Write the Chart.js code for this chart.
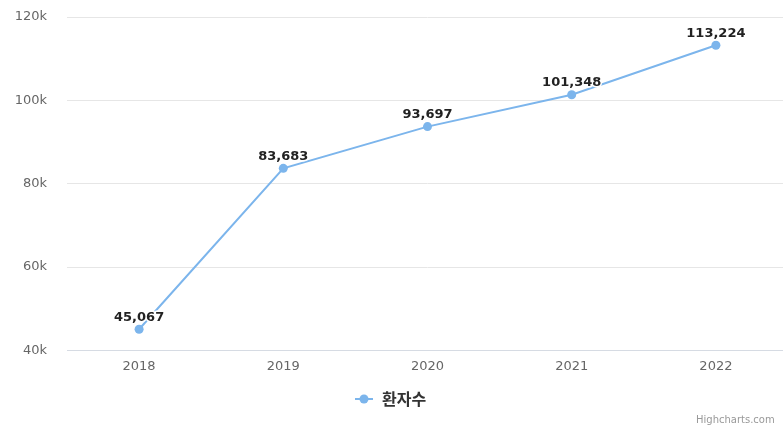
<!DOCTYPE html>
<html lang="ko">
<head>
<meta charset="utf-8">
<script src="https://cdn.jsdelivr.net/npm/chart.js@4.4.1/dist/chart.umd.min.js"></script>
<style>
    html, body { margin: 0; padding: 0; background: #fff; overflow: hidden; }
    #wrap { width: 800px; height: 425px; }
</style>
</head>
<body>
<div id="wrap"><canvas id="patientChart"></canvas></div>
<script>
// 연도별 환자수
const years = ['2018', '2019', '2020', '2021', '2022'];
const patients = [45067, 83683, 93697, 101348, 113224];
const seriesName = '환자수';
const yTicks = [40000, 60000, 80000, 100000, 120000];

const lineColor = '#7cb5ec';

// 점 위 값 라벨 + 하단 범례 + 크레딧
const decorations = {
    id: 'decorations',
    afterDatasetsDraw(chart) {
        const ctx = chart.ctx;
        const meta = chart.getDatasetMeta(0);

        ctx.save();
        ctx.font = 'bold 13px "DejaVu Sans", sans-serif';
        ctx.textAlign = 'center';
        ctx.textBaseline = 'middle';
        ctx.lineJoin = 'round';
        meta.data.forEach((pt, i) => {
            const text = patients[i].toLocaleString('en-US');
            ctx.lineWidth = 3;
            ctx.strokeStyle = '#ffffff';
            ctx.strokeText(text, pt.x, pt.y - 12);
            ctx.fillStyle = '#222222';
            ctx.fillText(text, pt.x, pt.y - 12);
        });

        // 범례
        const ly = 399;
        const lx = 364;
        ctx.strokeStyle = lineColor;
        ctx.lineWidth = 2;
        ctx.beginPath();
        ctx.moveTo(lx - 9, ly);
        ctx.lineTo(lx + 9, ly);
        ctx.stroke();
        ctx.fillStyle = lineColor;
        ctx.beginPath();
        ctx.arc(lx, ly, 4.5, 0, Math.PI * 2);
        ctx.fill();
        ctx.font = 'bold 16px "Noto Sans CJK KR", sans-serif';
        ctx.textAlign = 'left';
        ctx.fillStyle = '#333333';
        ctx.fillText(seriesName, lx + 18, ly);

        // 크레딧
        ctx.font = '10px "DejaVu Sans", sans-serif';
        ctx.fillStyle = '#999999';
        ctx.fillText('Highcharts.com', 696, 420);
        ctx.restore();
    }
};

const ctx = document.getElementById('patientChart').getContext('2d');
new Chart(ctx, {
    type: 'line',
    data: {
        labels: years,
        datasets: [{
            label: seriesName,
            data: patients,
            borderColor: lineColor,
            backgroundColor: lineColor,
            borderWidth: 2,
            pointRadius: 4.5,
            pointBorderWidth: 0,
            pointBackgroundColor: lineColor,
            tension: 0
        }]
    },
    options: {
        responsive: true,
        maintainAspectRatio: false,
        animation: false,
        layout: {
            padding: { top: 17, right: 12, bottom: 51, left: 0 }
        },
        scales: {
            x: {
                offset: true,
                grid: { display: false },
                border: { display: true, color: '#d6dbe3', width: 1 },
                ticks: {
                    color: '#666666',
                    padding: 0,
                    font: { family: '"DejaVu Sans", sans-serif', size: 13 }
                }
            },
            y: {
                min: 40000,
                max: 120000,
                afterFit(scale) {
                    scale.width = 67;
                    scale.paddingTop = 0;
                    scale.paddingBottom = 0;
                },
                afterBuildTicks(scale) {
                    scale.ticks = yTicks.map(v => ({ value: v }));
                },
                grid: { color: '#e6e6e6', drawTicks: false },
                border: { display: false },
                ticks: {
                    color: '#666666',
                    padding: 20,
                    font: { family: '"DejaVu Sans", sans-serif', size: 13 },
                    callback: v => (v / 1000) + 'k'
                }
            }
        },
        plugins: {
            legend: { display: false },
            tooltip: { enabled: false }
        }
    },
    plugins: [decorations]
});
</script>
</body>
</html>
